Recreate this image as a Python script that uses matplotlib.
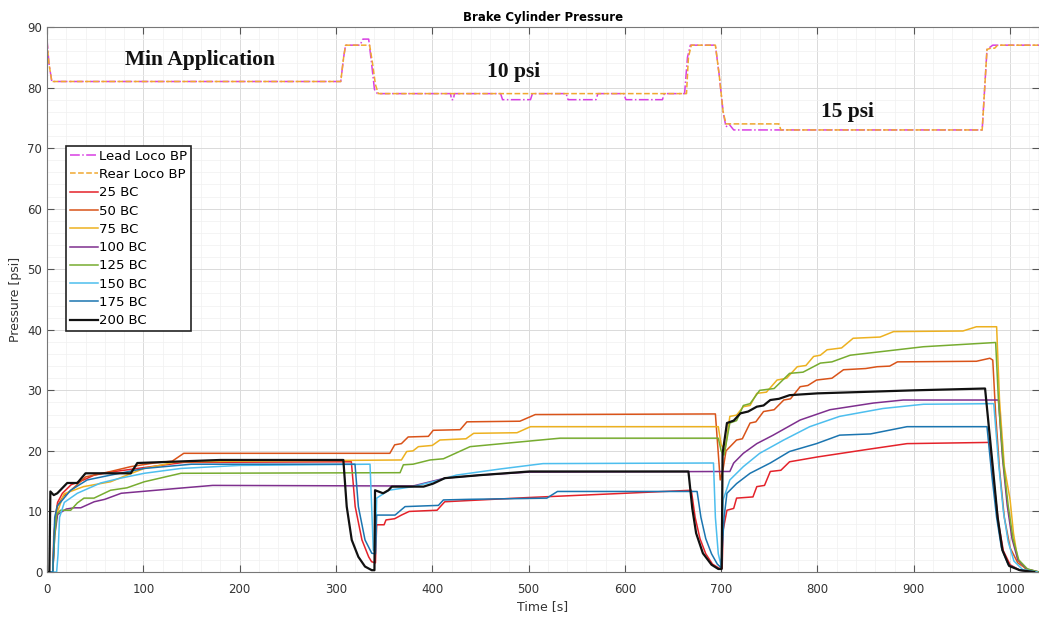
import matplotlib
matplotlib.use("Agg")
import matplotlib.pyplot as plt
from matplotlib.ticker import MultipleLocator

# ---- brake pipe pressures (lead / rear loco) ----
t_lead = [0, 2, 5, 305, 308, 310, 325, 328, 334, 337, 340, 343, 419, 420, 422, 423,
          471, 473, 502, 504, 539, 541, 570, 572, 599, 601, 639, 641, 662, 665, 668,
          694, 698, 702, 705, 708, 713, 971, 976, 982, 1030]
p_lead = [88, 84, 81, 81, 85, 87, 87, 88, 88, 84, 79.7, 79, 79, 78, 78, 79,
          79, 78, 78, 79, 79, 78, 78, 79, 79, 78, 78, 79, 79, 85, 87,
          87, 82, 76, 73.5, 74, 73, 73, 86.3, 87, 87]

t_rear = [0, 2, 5, 305, 308, 310, 335, 338, 341, 344, 664, 666, 669, 694, 698, 702,
          705, 760, 762, 971, 976, 980, 984, 987, 1030]
p_rear = [87.5, 84, 81, 81, 85, 87, 87, 84, 80.5, 79, 79, 85, 87, 87, 82, 76,
          74, 74, 73, 73, 86.3, 86.5, 86.5, 87, 87]

# ---- brake cylinder pressures ----
t_bc25 = [0, 6, 7.5, 9, 11, 16, 25, 38, 49, 66, 94, 142, 316, 320, 327, 334, 337, 341,
          342.3, 350, 352, 361, 368, 376, 405, 413, 500, 600, 669, 673, 678, 684, 691,
          698, 701, 702, 706, 713, 716, 733, 737, 745, 751, 762, 771, 800, 850, 893,
          979, 983, 988, 993, 1000, 1010, 1025]
p_bc25 = [0, 0, 6, 9.5, 11.5, 13, 14.4, 15.2, 16, 16.5, 17.1, 18.1, 18.2, 10.8, 5.3, 2.5, 1.7, 1.5,
          7.8, 7.8, 8.6, 8.8, 9.4, 10.0, 10.2, 11.6, 12.3, 13.0, 13.5, 9, 5.5, 3, 1.3,
          0.6, 0.6, 6.9, 10.2, 10.5, 12.2, 12.4, 14.1, 14.3, 16.6, 16.8, 18.2, 19.0, 20.2, 21.2,
          21.4, 15, 8, 3.5, 1.2, 0.3, 0]

t_bc50 = [0, 6, 7, 9, 11, 17, 25, 40, 66, 87, 111, 130, 142, 356, 361, 368, 375, 396,
          401, 429, 436, 491, 507, 694, 699, 702, 705, 716, 722, 730, 736, 744, 755,
          765, 772, 782, 790, 799, 815, 827, 850, 862, 875, 883, 965, 979, 982, 985,
          989, 994, 1000, 1008, 1018, 1030]
p_bc50 = [0, 0, 6, 9, 11, 12.5, 13.5, 15.7, 16.6, 17.4, 18.0, 18.3, 19.6, 19.6, 21, 21.2, 22.3, 22.4,
          23.4, 23.5, 24.8, 24.9, 26.0, 26.1, 15.2, 17, 20, 21.8, 22, 24.6, 24.8, 26.5, 26.8,
          28.4, 28.6, 30.6, 30.8, 31.7, 32, 33.4, 33.6, 33.9, 34, 34.7, 34.8, 35.3, 35, 26,
          17, 9, 4, 1.5, 0.4, 0]

t_bc75 = [0, 6, 8, 11, 17.6, 38, 66, 83, 101, 135, 200, 368, 373.5, 380, 385.6, 400, 408,
          435, 443, 488, 502, 697, 700, 704, 709, 716, 723, 730, 737, 747, 758, 768,
          779, 788, 796, 803, 810, 825, 837, 865, 879, 951, 965, 986, 989, 994, 1000,
          1003.5, 1008, 1016, 1028]
p_bc75 = [0, 0, 7, 10, 12.9, 14.1, 14.9, 16.0, 17.1, 18.2, 18.3, 18.5, 19.9, 20, 20.7, 20.9, 21.8,
          22, 22.9, 23.0, 24.0, 24.0, 21, 20.1, 25.7, 25.9, 27.3, 27.5, 29.5, 29.7, 31.7, 32,
          33.9, 34.1, 35.6, 35.8, 36.7, 37, 38.6, 38.8, 39.7, 39.8, 40.5, 40.5, 28.4, 17.4, 11.9,
          6.4, 2.0, 0.5, 0]

t_bc100 = [0, 6, 8, 11, 20, 28, 35, 49, 60, 77, 142, 172, 380, 413, 450, 501, 709, 713,
           723, 737, 754, 782, 813, 858, 889, 988, 992, 997, 1002, 1008, 1017, 1030]
p_bc100 = [0, 0, 6, 9.5, 10.4, 10.6, 10.6, 11.6, 12, 13.0, 13.9, 14.3, 14.2, 15.5, 16.0, 16.5, 16.6, 18.0,
           19.6, 21.2, 22.6, 25.1, 26.8, 27.9, 28.4, 28.4, 19, 11, 5.5, 2, 0.5, 0]

t_bc125 = [0, 6, 8, 10, 14, 24.6, 31.5, 38.4, 48.8, 66, 83, 101, 139, 366.6, 370, 380,
           397.7, 411.6, 439.3, 532.7, 697, 700, 703, 709, 716, 723, 730, 740, 755, 771,
           785, 803, 815, 834, 910, 985, 988, 993, 998, 1003, 1009, 1018, 1030]
p_bc125 = [0, 0, 6, 9.5, 10.2, 10.2, 11.4, 12.2, 12.2, 13.5, 13.9, 14.9, 16.3, 16.4, 17.7, 17.8,
           18.5, 18.7, 20.7, 22.1, 22.1, 20, 19.3, 24.6, 25, 27.5, 27.8, 30.0, 30.3, 32.8,
           33, 34.5, 34.7, 35.8, 37.2, 37.9, 28, 18, 11, 5.5, 2, 0.5, 0]

t_bc150 = [0, 10, 11.5, 13, 18, 31.5, 55.7, 76.5, 101, 139, 200, 335.4, 338.8, 341, 342.3,
           349, 355, 380, 408, 425, 470, 515, 692, 694, 697, 700, 702, 709, 723, 740,
           765, 792, 823, 868, 910, 983, 988, 993, 998, 1004, 1013, 1028]
p_bc150 = [0, 0, 3, 9, 11.5, 13, 14.7, 15.5, 16.3, 17.1, 17.6, 17.8, 3.6, 3.3, 12.2,
           12.9, 13.5, 14.1, 15.2, 16.0, 17.0, 17.9, 18.0, 9, 3, 1.0, 11.9, 15.2, 17.4, 19.6,
           21.8, 24.0, 25.7, 27.0, 27.7, 27.8, 18, 10, 5, 1.8, 0.4, 0]

t_bc175 = [0, 6, 8, 10.7, 24.6, 41.7, 66, 101, 150, 319.8, 323.3, 330.2, 337.2, 341, 342.3,
           361.4, 366.6, 371.8, 406.4, 411.6, 437.5, 519, 530, 675, 679, 684, 690, 696,
           700, 703, 706, 716, 730, 751, 771, 799, 823, 855, 893, 976, 981, 986, 991,
           998, 1010, 1025]
p_bc175 = [0, 0, 9, 10.9, 13.5, 15.2, 16, 17.1, 17.8, 17.8, 10.8, 5.3, 3.1, 3, 9.4,
           9.4, 10.1, 10.8, 11.0, 11.9, 12.0, 12.2, 13.3, 13.3, 9, 5.5, 3, 1.3,
           0.7, 9, 13.0, 14.6, 16.3, 18.0, 19.9, 21.2, 22.6, 22.8, 24.0, 24.0, 16, 9, 4,
           1.2, 0.3, 0]

t_bc200 = [0, 2.5, 3.5, 7, 10.7, 21, 31.5, 40, 87, 93.8, 180, 307.7, 311.2, 316.4, 323.3,
           330.2, 337.2, 340, 340.6, 349, 354.5, 358, 391, 401, 413, 450, 501, 666, 670,
           674, 681, 690, 697, 700.5, 701.5, 706, 713, 720, 728, 737, 744, 751, 760, 771,
           800, 900, 974, 982, 987, 992, 999, 1010, 1025]
p_bc200 = [0, 0, 13.3, 12.7, 13.0, 14.7, 14.7, 16.3, 16.3, 18.0, 18.5, 18.5, 10.8, 5.3, 2.5,
           0.9, 0.3, 0.3, 13.5, 13.0, 13.5, 14.1, 14.1, 14.6, 15.5, 16.0, 16.6, 16.6, 10.5,
           6.4, 3.1, 1.2, 0.5, 0.5, 19.6, 24.6, 25.0, 26.2, 26.5, 27.3, 27.5, 28.4, 28.6, 29.2,
           29.5, 30.0, 30.3, 17.4, 9.1, 3.6, 1.0, 0.3, 0]

bc_series = [
    ("25 BC", t_bc25, p_bc25, "#E4222A", 1.1),
    ("50 BC", t_bc50, p_bc50, "#D95319", 1.1),
    ("75 BC", t_bc75, p_bc75, "#EDB120", 1.1),
    ("100 BC", t_bc100, p_bc100, "#7E2F8E", 1.1),
    ("125 BC", t_bc125, p_bc125, "#77AC30", 1.1),
    ("150 BC", t_bc150, p_bc150, "#4DBEEE", 1.1),
    ("175 BC", t_bc175, p_bc175, "#1B75B0", 1.1),
    ("200 BC", t_bc200, p_bc200, "#111111", 1.6),
]

annotations = [("Min Application", 159, 84.6), ("10 psi", 484, 82.6), ("15 psi", 831, 75.9)]

fig = plt.figure(figsize=(10.39, 6.23), dpi=100)
ax = fig.add_axes([47 / 1039, 51 / 623, 992 / 1039, 545 / 623])

ax.plot(t_lead, p_lead, color="#D83FE3", lw=1.1, ls="-.", label="Lead Loco BP")
ax.plot(t_rear, p_rear, color="#F0A830", lw=1.1, ls="--", label="Rear Loco BP")
for name, t, p, col, lw in bc_series:
    ax.plot(t, p, color=col, lw=lw, label=name)

for txt, x, y in annotations:
    ax.text(x, y, txt, ha="center", va="center", fontsize=15.5,
            fontweight="bold", family="Liberation Serif", color="#111111")

ax.set_xlim(0, 1030)
ax.set_ylim(0, 90)
ax.xaxis.set_major_locator(MultipleLocator(100))
ax.xaxis.set_minor_locator(MultipleLocator(20))
ax.yaxis.set_major_locator(MultipleLocator(10))
ax.yaxis.set_minor_locator(MultipleLocator(2))
ax.grid(which="major", color="#DADADA", lw=0.7)
ax.grid(which="minor", color="#F0F0F0", lw=0.5)
ax.set_axisbelow(True)
ax.tick_params(which="both", direction="in", top=True, right=True,
               colors="#555555", labelcolor="#333333", labelsize=8.5)
ax.tick_params(which="minor", length=0)
ax.tick_params(which="major", length=5)
ax.tick_params(axis="x", pad=8)
for s in ax.spines.values():
    s.set_color("#777777")
    s.set_linewidth(0.8)

ax.set_xlabel("Time [s]", fontsize=9, color="#333333", labelpad=3)
ax.set_ylabel("Pressure [psi]", fontsize=9, color="#333333", labelpad=4)
ax.set_title("Brake Cylinder Pressure", fontsize=8.5, fontweight="bold", pad=4)

leg = ax.legend(loc="upper left", bbox_to_anchor=(0.019, 0.782), borderaxespad=0,
                fontsize=9.5, labelspacing=0.4, handlelength=2.1, handletextpad=0.1,
                borderpad=0.3, fancybox=False, framealpha=1, edgecolor="#222222")
leg.get_frame().set_linewidth(1.2)

fig.savefig("out.png", dpi=100)
